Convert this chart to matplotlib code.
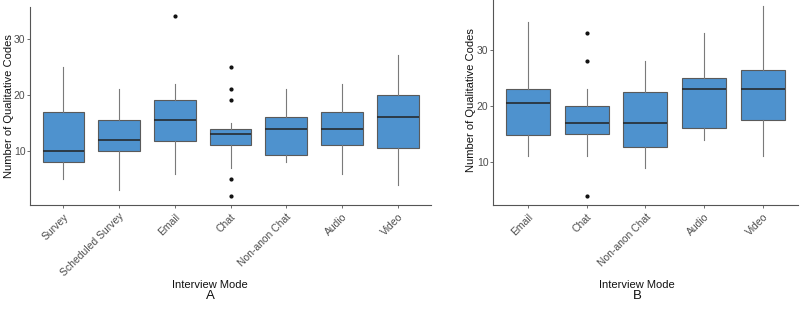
"""Boxplots of qualitative code counts per interview mode (panels A and B)."""

import matplotlib
matplotlib.use("Agg")
import matplotlib.pyplot as plt

plt.rcParams["font.family"] = ["Liberation Sans", "DejaVu Sans"]

# ----------------------------------------------------------------------------
# Data
# ----------------------------------------------------------------------------
modes_a = ["Survey", "Scheduled Survey", "Email", "Chat", "Non-anon Chat", "Audio", "Video"]
whislo_a = [5, 3, 6, 7, 8, 6, 4]
q1_a = [8, 10, 11.75, 11, 9.25, 11, 10.5]
med_a = [10, 12, 15.5, 13, 14, 14, 16]
q3_a = [17, 15.5, 19, 14, 16, 17, 20]
whishi_a = [25, 21, 22, 15, 21, 22, 27]
fliers_a = [[], [], [34], [25, 21, 19, 5, 2], [], [], []]

modes_b = ["Email", "Chat", "Non-anon Chat", "Audio", "Video"]
whislo_b = [11, 11, 9, 14, 11]
q1_b = [14.75, 15, 12.75, 16, 17.5]
med_b = [20.5, 17, 17, 23, 23]
q3_b = [23, 20, 22.5, 25, 26.5]
whishi_b = [35, 23, 28, 33, 38]
fliers_b = [[], [33, 28, 4], [], [], []]

FILL = "#4E92CE"
EDGE = "#5A5A5A"
TEXT_GRAY = "#4D4D4D"
FS = 7.5


def draw_panel(fig, ax, modes, lo, q1, med, q3, hi, fliers, letter, ylab_x, title_x):
    stats = [
        {"whislo": a, "q1": b, "med": c, "q3": d, "whishi": e, "fliers": f, "label": m}
        for m, a, b, c, d, e, f in zip(modes, lo, q1, med, q3, hi, fliers)
    ]
    ax.bxp(stats, positions=range(1, len(modes) + 1), widths=0.75,
           patch_artist=True, showcaps=False,
           boxprops=dict(facecolor=FILL, edgecolor=EDGE, linewidth=0.8),
           medianprops=dict(color="#222222", linewidth=1.1),
           whiskerprops=dict(color="#7A7A7A", linewidth=0.8),
           flierprops=dict(marker="o", markersize=2, markerfacecolor="#111111",
                           markeredgecolor="#111111"))

    # ggplot-style expansion: 5% on continuous y, 0.6 on discrete x
    vals = [v for row in (lo, hi) for v in row] + [v for fl in fliers for v in fl]
    ymin, ymax = min(vals), max(vals)
    pad = (ymax - ymin) * 0.05
    ax.set_ylim(ymin - pad, ymax + pad)
    ax.set_xlim(0.4, len(modes) + 0.6)

    ax.set_yticks([10, 20, 30])
    ax.set_xticks(range(1, len(modes) + 1))
    ax.set_xticklabels(modes, rotation=45, ha="right", rotation_mode="anchor")
    ax.tick_params(axis="both", colors="#555555", labelcolor=TEXT_GRAY,
                   labelsize=FS, length=2.2, width=0.6)
    ax.tick_params(axis="y", pad=1)
    ax.tick_params(axis="x", pad=2.5)
    for side in ("top", "right"):
        ax.spines[side].set_visible(False)
    for side in ("left", "bottom"):
        ax.spines[side].set_color("#555555")
        ax.spines[side].set_linewidth(0.8)

    ax.set_ylabel("Number of Qualitative Codes", fontsize=FS + 0.5, color="#111111")
    ax.yaxis.set_label_coords(ylab_x, 0.5)

    # axis title and panel letter sit at fixed heights below the panel
    fig.text(title_x, 1 - 285 / 310, "Interview Mode", ha="center", va="center",
             fontsize=FS + 0.5, color="#111111")
    fig.text(title_x, 1 - 296 / 310, letter, ha="center", va="center",
             fontsize=9.5, color="#111111")


fig = plt.figure(figsize=(8, 3.1), dpi=100)
ax_a = fig.add_axes([0.0375, 0.3387, 0.5015, 0.6387])
ax_b = fig.add_axes([0.616, 0.3387, 0.3815, 0.6742])

draw_panel(fig, ax_a, modes_a, whislo_a, q1_a, med_a, q3_a, whishi_a, fliers_a,
           "A", -0.041, 210 / 800)
draw_panel(fig, ax_b, modes_b, whislo_b, q1_b, med_b, q3_b, whishi_b, fliers_b,
           "B", -0.054, 637 / 800)

fig.savefig("out.png", dpi=100)
